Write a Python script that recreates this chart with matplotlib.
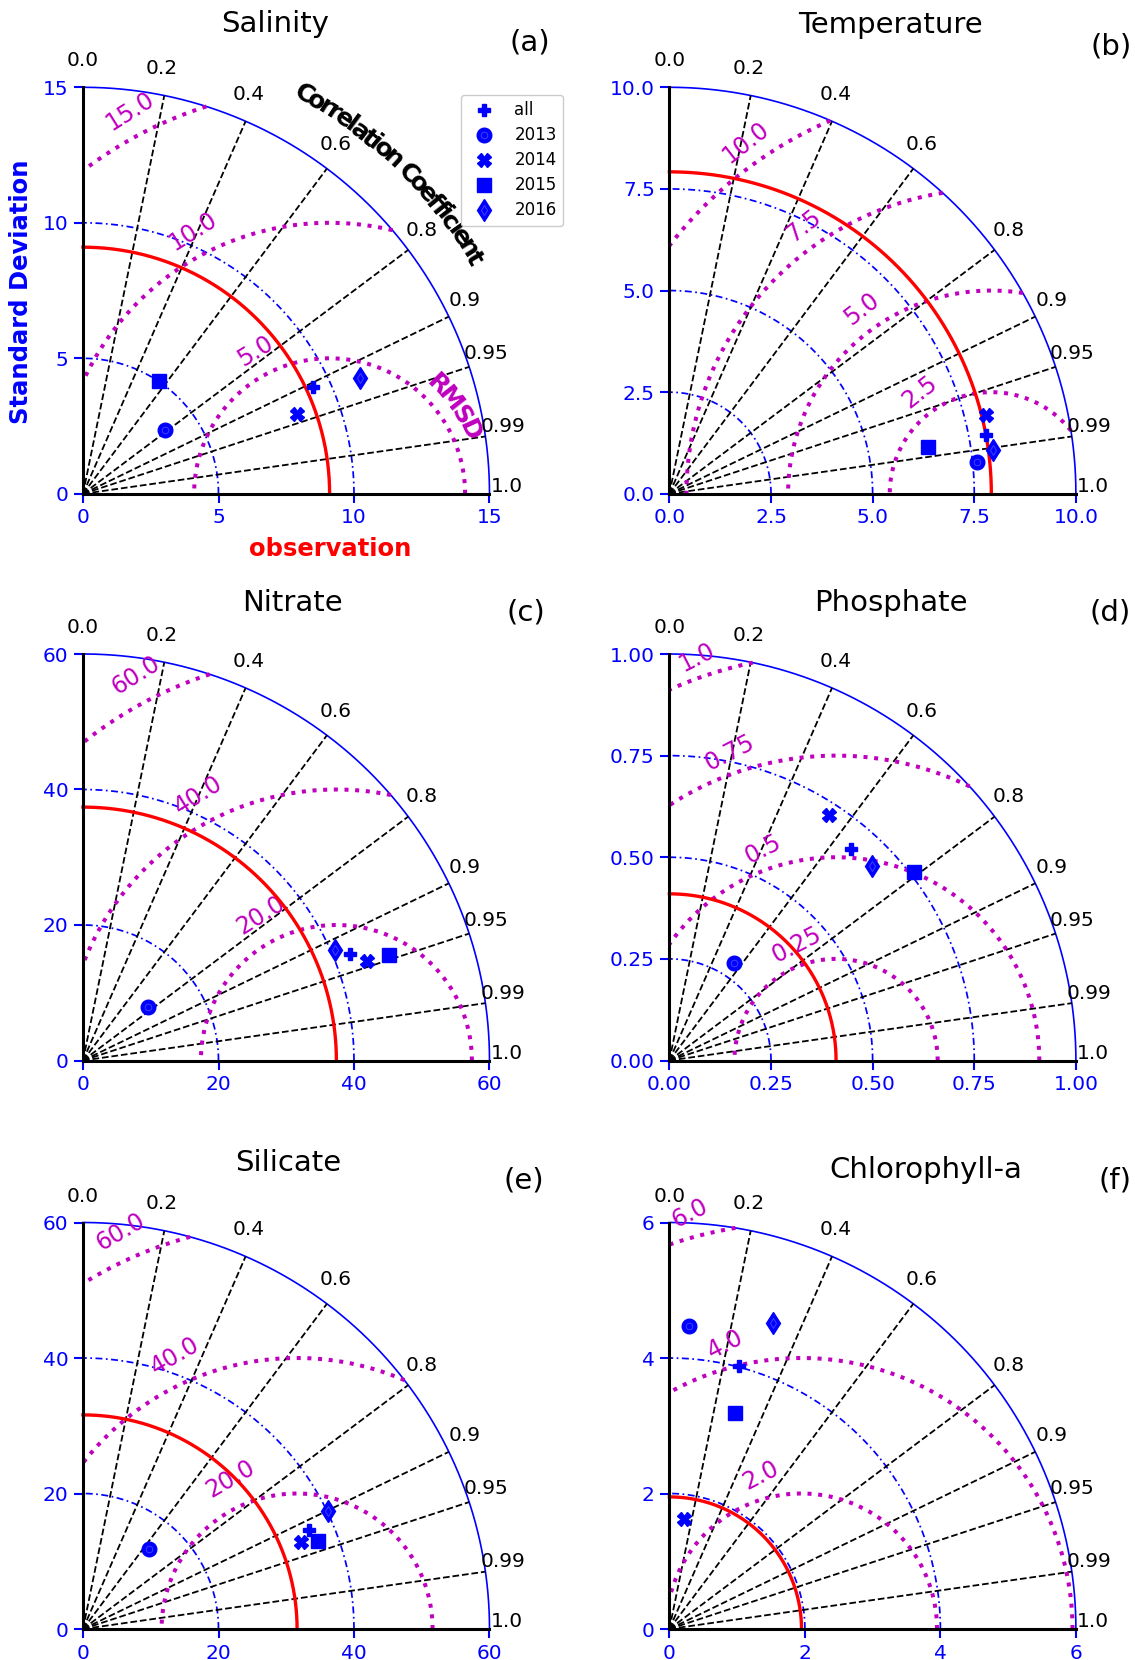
import numpy as np
import matplotlib
matplotlib.use("Agg")
import matplotlib.pyplot as plt

# ---------------- data ----------------
series_labels = ["all", "2013", "2014", "2015", "2016"]
series_markers = ["P", "o", "X", "s", "d"]

panel_titles = ["Salinity", "Temperature", "Nitrate", "Phosphate", "Silicate", "Chlorophyll-a"]
panel_tags = ["(a)", "(b)", "(c)", "(d)", "(e)", "(f)"]

# observed standard deviation (reference arc)
obs_std = [9.10, 7.92, 37.4, 0.41, 31.6, 1.95]

# model standard deviation / correlation, order: all, 2013, 2014, 2015, 2016
salinity_std = [9.36, 3.84, 8.43, 5.04, 11.06]
salinity_corr = [0.907, 0.792, 0.937, 0.559, 0.923]
temperature_std = [7.93, 7.61, 8.02, 6.46, 8.03]
temperature_corr = [0.983, 0.9948, 0.970, 0.984, 0.991]
nitrate_std = [42.47, 12.41, 44.39, 47.72, 40.68]
nitrate_corr = [0.929, 0.771, 0.944, 0.945, 0.9155]
phosphate_std = [0.686, 0.288, 0.721, 0.760, 0.691]
phosphate_corr = [0.652, 0.556, 0.544, 0.793, 0.721]
silicate_std = [36.45, 15.3, 34.56, 37.0, 40.1]
silicate_corr = [0.916, 0.636, 0.929, 0.937, 0.900]
chla_std = [4.02, 4.48, 1.645, 3.34, 4.77]
chla_corr = [0.256, 0.065, 0.133, 0.291, 0.321]

all_std = [salinity_std, temperature_std, nitrate_std, phosphate_std, silicate_std, chla_std]
all_corr = [salinity_corr, temperature_corr, nitrate_corr, phosphate_corr, silicate_corr, chla_corr]

axis_max = [15, 10, 60, 1.0, 60, 6]
std_ticks = [[0, 5, 10, 15], [0, 2.5, 5, 7.5, 10], [0, 20, 40, 60],
             [0, 0.25, 0.5, 0.75, 1.0], [0, 20, 40, 60], [0, 2, 4, 6]]
std_tick_labels = [["0", "5", "10", "15"], ["0.0", "2.5", "5.0", "7.5", "10.0"],
                   ["0", "20", "40", "60"], ["0.00", "0.25", "0.50", "0.75", "1.00"],
                   ["0", "20", "40", "60"], ["0", "2", "4", "6"]]
rmsd_levels = [[5, 10, 15], [2.5, 5, 7.5, 10], [20, 40, 60],
               [0.25, 0.5, 0.75, 1.0], [20, 40, 60], [2, 4, 6]]
rmsd_labels = [["5.0", "10.0", "15.0"], ["2.5", "5.0", "7.5", "10.0"], ["20.0", "40.0", "60.0"],
               ["0.25", "0.5", "0.75", "1.0"], ["20.0", "40.0", "60.0"], ["2.0", "4.0", "6.0"]]
corr_ticks = [0.0, 0.2, 0.4, 0.6, 0.8, 0.9, 0.95, 0.99, 1.0]
corr_tick_labels = ["0.0", "0.2", "0.4", "0.6", "0.8", "0.9", "0.95", "0.99", "1.0"]

# ---------------- layout / style ----------------
W, H = 1135, 1660
SIZE = 406.5  # quadrant size in pixels
origins = [(83, 493.8), (669.4, 493.8), (83, 1060.5), (669.4, 1060.5), (83, 1629), (669.4, 1629)]
title_pos = [(275, 24), (890, 25), (292, 603), (891, 603), (288, 1163), (926, 1170)]
tag_pos = [(530, 43), (1111, 46), (526, 613), (1110, 613), (524, 1180), (1115, 1180)]
# RMSD label placement: angle seen from the observation point, radial pad, text rotation
rms_angle = [117.5, 125, 117.5, 109, 114, 105]
rms_pad = [0.062, 0.055, 0.07, 0.05, 0.07, 0.058]
rms_rot = [32, 38, 32, 27, 30, 27]

BLUE = "#0000ff"
MAG = (0.75, 0.0, 0.75)
marker_sizes = {"P": 8.2, "o": 10.5, "X": 10.0, "s": 10.7, "d": 11.2}

# advance widths (em) of DejaVu Sans Bold, for curved captions
EM_W = {"C": .732, "o": .687, "r": .493, "e": .678, "l": .343, "a": .675, "t": .478,
        "i": .343, "n": .712, " ": .348, "f": .435, "c": .592, "R": .770, "M": .995,
        "S": .720, "D": .830}

fig = plt.figure(figsize=(W / 100, H / 100), dpi=100)


def curved_text(ax, text, cx, cy, radius, ang_first, ang_last, **kw):
    w = np.array([EM_W[ch] for ch in text])
    centers = np.cumsum(w) - w / 2
    frac = (centers - centers[0]) / (centers[-1] - centers[0])
    angs = ang_first + (ang_last - ang_first) * frac
    for ch, a in zip(text, angs):
        if ch == " ":
            continue
        ar = np.radians(a)
        ax.text(cx + radius * np.cos(ar), cy + radius * np.sin(ar), ch, rotation=a - 90,
                ha="center", va="baseline", rotation_mode="anchor", clip_on=False, **kw)


t_quarter = np.linspace(0, np.pi / 2, 500)

for k in range(6):
    x0, y0 = origins[k]
    ax = fig.add_axes([x0 / W, (H - y0) / H, SIZE / W, SIZE / H])
    R = axis_max[k]
    obs = obs_std[k]
    ax.set_xlim(0, R)
    ax.set_ylim(0, R)
    for s in ["top", "right"]:
        ax.spines[s].set_visible(False)
    for s in ["left", "bottom"]:
        ax.spines[s].set_linewidth(2.2)
        ax.spines[s].set_color("black")
        ax.spines[s].set_zorder(4)
    ax.set_xticks(std_ticks[k])
    ax.set_xticklabels(std_tick_labels[k])
    ax.set_yticks(std_ticks[k])
    ax.set_yticklabels(std_tick_labels[k])
    ax.tick_params(direction="out", length=6.3, width=1.5, color=BLUE, labelcolor=BLUE,
                   labelsize=14.5, pad=4.2)

    # outer arc
    ax.plot(R * np.cos(t_quarter), R * np.sin(t_quarter), color=BLUE, lw=1.2, clip_on=False, zorder=2)
    # standard deviation circles
    for v in std_ticks[k][1:-1]:
        ax.plot(v * np.cos(t_quarter), v * np.sin(t_quarter), color=BLUE, lw=1.25,
                ls=(0, (4, 2, 1, 2)), clip_on=False, zorder=2)
    # correlation rays
    for c in corr_ticks[1:-1]:
        th = np.arccos(c)
        ax.plot([0, R * np.cos(th)], [0, R * np.sin(th)], color="k", lw=1.3, ls="--",
                clip_on=False, zorder=2)
    # correlation labels
    for c, lab in zip(corr_ticks, corr_tick_labels):
        th = np.arccos(c)
        rr = R * (1.043 + 0.022 * np.sin(th))
        ang = th if c == 0.0 else th + np.radians(1.0)
        ax.text(rr * np.cos(ang), rr * np.sin(ang), lab, ha="center", va="center",
                fontsize=14.5, color="k", clip_on=False)

    # RMSD contours centred on the observation point
    for lev, lab in zip(rmsd_levels[k], rmsd_labels[k]):
        cos_min = (R ** 2 - obs ** 2 - lev ** 2) / (2 * obs * lev)
        if cos_min <= -1:
            continue
        t_lo = 0.0 if cos_min >= 1 else np.arccos(cos_min)
        t_hi = np.pi if lev <= obs else np.arccos(-obs / lev)
        tt = np.linspace(t_lo, t_hi, 400)
        ax.plot(obs + lev * np.cos(tt), lev * np.sin(tt), color=MAG, lw=2.9, ls=":",
                clip_on=False, zorder=2)
        a = np.radians(rms_angle[k])
        rr = lev + rms_pad[k] * R
        ax.text(obs + rr * np.cos(a), rr * np.sin(a), lab, color=MAG, fontsize=17,
                rotation=rms_rot[k], ha="center", va="center", rotation_mode="anchor",
                clip_on=False, zorder=3)

    # observation arc
    ax.plot(obs * np.cos(t_quarter), obs * np.sin(t_quarter), color="red", lw=2.4,
            clip_on=False, zorder=3)

    # model points
    handles = []
    for sd, cr, mk in zip(all_std[k], all_corr[k], series_markers):
        th = np.arccos(cr)
        x, y = sd * np.cos(th), sd * np.sin(th)
        h, = ax.plot([x], [y], ls="none", marker=mk, ms=marker_sizes[mk], color=BLUE,
                     mec=BLUE, clip_on=False, zorder=6)
        if mk in ("o", "d"):
            ring, = ax.plot([x], [y], ls="none", marker=mk, ms=marker_sizes[mk] * 0.45,
                            mfc="none", mec="#4040ff", mew=0.7, clip_on=False, zorder=7)
            handles.append((h, ring))
        else:
            handles.append(h)
    if k == 0:
        ax.legend(handles, series_labels, loc="upper right",
                  bbox_to_anchor=(563.3 / W, 1 - 94.7 / H), bbox_transform=fig.transFigure,
                  borderaxespad=0, fontsize=12, numpoints=1, frameon=True, fancybox=True,
                  edgecolor="0.8", framealpha=1.0, labelspacing=0.42)
        curved_text(ax, "Correlation Coefficient", 0, 0, 1.105 * R, 61.0, 31.0,
                    fontsize=18, fontweight="bold", color="k")
        curved_text(ax, "RMSD", obs, 0, rmsd_levels[k][0] + 0.4, 45.3, 24.6,
                    fontsize=18, fontweight="bold", color=MAG)

    fig.text(title_pos[k][0] / W, 1 - title_pos[k][1] / H, panel_titles[k], fontsize=21,
             ha="center", va="center")
    fig.text(tag_pos[k][0] / W, 1 - tag_pos[k][1] / H, panel_tags[k], fontsize=21,
             ha="center", va="center")

fig.text(21 / W, 1 - 292 / H, "Standard Deviation", rotation=90, fontsize=17.5,
         fontweight="bold", color=BLUE, ha="center", va="center")
fig.text(330 / W, 1 - 549 / H, "observation", fontsize=17.5, fontweight="bold",
         color="red", ha="center", va="center")

fig.savefig("out.png", dpi=100)
